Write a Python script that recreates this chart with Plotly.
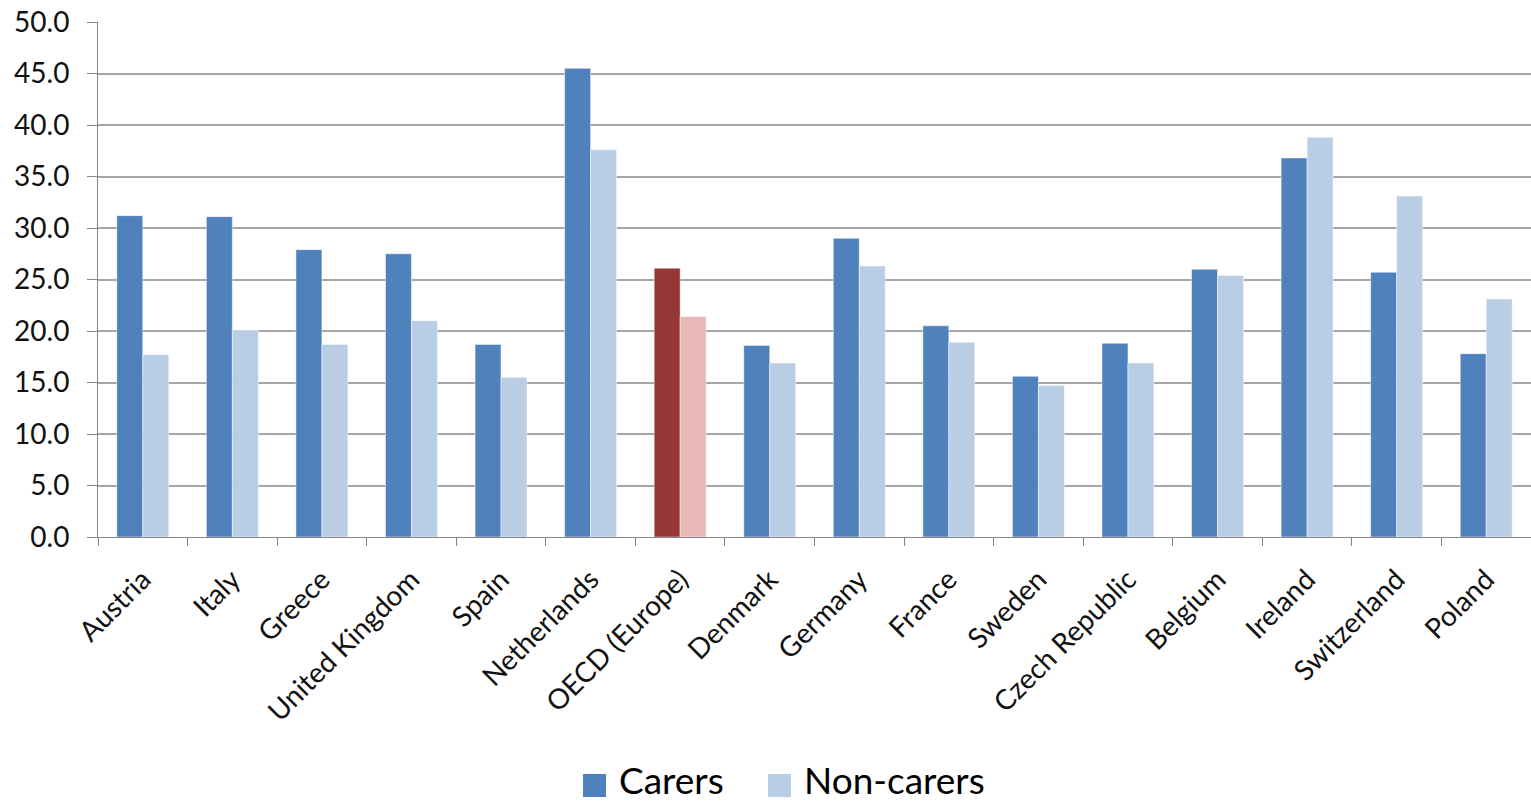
import plotly.graph_objects as go

countries = ["Austria", "Italy", "Greece", "United Kingdom", "Spain", "Netherlands",
             "OECD (Europe)", "Denmark", "Germany", "France", "Sweden", "Czech Republic",
             "Belgium", "Ireland", "Switzerland", "Poland"]
carers = [31.2, 31.1, 27.9, 27.5, 18.7, 45.5, 26.1, 18.6, 29.0, 20.5, 15.6, 18.8, 26.0, 36.8, 25.7, 17.8]
non_carers = [17.7, 20.1, 18.7, 21.0, 15.5, 37.6, 21.4, 16.9, 26.3, 18.9, 14.7, 16.9, 25.4, 38.8, 33.1, 23.1]
y_ticks = [0, 5, 10, 15, 20, 25, 30, 35, 40, 45, 50]
series_names = ["Carers", "Non-carers"]

C_BLUE, C_LBLUE = "#4F81BD", "#B9CDE5"
C_RED, C_LRED = "#953735", "#E6B9B8"
highlight = "OECD (Europe)"

carer_colors = [C_RED if c == highlight else C_BLUE for c in countries]
non_colors = [C_LRED if c == highlight else C_LBLUE for c in countries]

font_family = "Lato, 'Open Sans', sans-serif"
W, H = 1531, 802
ML, MR, MT, MB = 98, 0, 22, 265

fig = go.Figure()
fig.add_trace(go.Bar(x=countries, y=carers, name=series_names[0], showlegend=False,
                     marker=dict(color=carer_colors, line=dict(width=0.8, color="rgba(255,255,255,0.6)"))))
fig.add_trace(go.Bar(x=countries, y=non_carers, name=series_names[1], showlegend=False,
                     marker=dict(color=non_colors, line=dict(width=0.8, color="rgba(255,255,255,0.6)"))))

# Custom legend (large square swatches); positions in figure pixels -> plot-area paper coords
pw = W - ML - MR
ph = H - MT - MB

def fx(px):
    return (px - ML) / pw

def fy(py):
    return (H - MB - py) / ph

legend_items = [(series_names[0], C_BLUE, 583, 617), (series_names[1], C_LBLUE, 768, 802)]
shapes, annots = [], []
for name, col, sx, tx in legend_items:
    shapes.append(dict(type="rect", xref="paper", yref="paper",
                       x0=fx(sx), x1=fx(sx + 23), y0=fy(797), y1=fy(774),
                       fillcolor=col, line=dict(width=0)))
    annots.append(dict(xref="paper", yref="paper", x=fx(tx), y=fy(779),
                       xanchor="left", yanchor="middle", text=name, showarrow=False,
                       font=dict(size=37, color="#000000", family=font_family)))

fig.update_layout(
    barmode="group",
    bargap=0.42,
    bargroupgap=0,
    width=W, height=H,
    margin=dict(l=ML, r=MR, t=MT, b=MB),
    plot_bgcolor="white", paper_bgcolor="white",
    font=dict(family=font_family, color="#111111"),
    showlegend=False,
    shapes=shapes,
    annotations=annots,
    xaxis=dict(type="category", tickangle=-45, tickfont=dict(size=28, color="#111111"),
               showline=True, linecolor="#868686", linewidth=1,
               ticks="outside", tickson="boundaries", ticklen=8, tickcolor="#868686",
               ticklabelstandoff=14,
               showgrid=False, automargin=False),
    yaxis=dict(range=[0, 50], tickvals=y_ticks, tickformat=".1f",
               tickfont=dict(size=28, color="#111111"),
               showline=True, linecolor="#868686", linewidth=1,
               ticks="outside", ticklen=10, tickcolor="#868686",
               ticklabelstandoff=12,
               showgrid=True, gridcolor="#A6A6A6", gridwidth=1.5,
               zeroline=False, automargin=False),
)

fig.write_html("out.html", config={"displayModeBar": False},
               post_script="document.body.style.margin='0';")
